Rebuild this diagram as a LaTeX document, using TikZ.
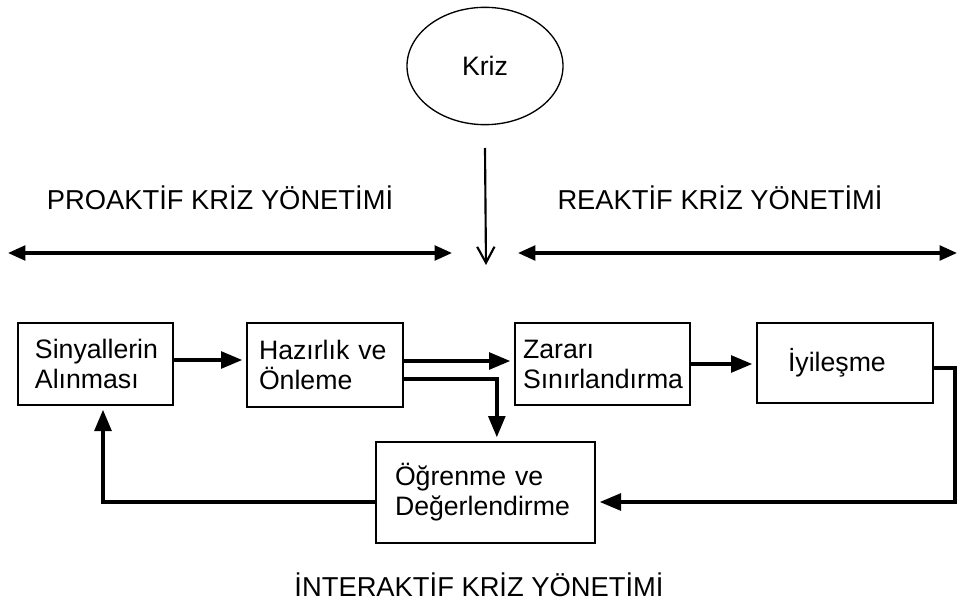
\documentclass[tikz,border=0pt]{standalone}
\usepackage{fontspec}
\setmainfont{Liberation Sans}
\usetikzlibrary{arrows.meta, shapes.geometric}

\begin{document}
\begin{tikzpicture}[x=0.75pt, y=-0.75pt,
    txt/.style={font=\fontsize{20}{22.5}\selectfont},
    box/.style={draw, line width=1pt, txt, align=left, minimum height=61.5pt},
    flow/.style={line width=2.8pt, shorten >=3pt, -{Triangle[length=16pt, width=12.5pt]}},
    span/.style={line width=2.4pt, {Triangle[length=13pt, width=11pt]}-{Triangle[length=13pt, width=11pt]}}]
    \useasboundingbox (0,0) rectangle (958,606);

    \node[ellipse, draw, line width=1pt, txt, minimum width=117pt, minimum height=88pt] (kriz) at (485,66) {Kriz};
    \coordinate (hit) at (486,265);
    \draw[line width=1.6pt, -{Straight Barb[length=12pt, width=13pt]}] ([yshift=-17pt]kriz.south) -- (hit);

    % headings and their spans
    \node[txt, font=\fontsize{20.5}{23}\selectfont] (pro) at (220,198) {PROAKTİF KRİZ YÖNETİMİ};
    \node[txt, font=\fontsize{20.5}{23}\selectfont] (rea) at (720,198) {REAKTİF KRİZ YÖNETİMİ};
    \node[txt, font=\fontsize{20.5}{23}\selectfont] (int) at (479,585) {İNTERAKTİF KRİZ YÖNETİMİ};
    \coordinate (pl1) at (8,253);
    \coordinate (pl2) at (452,253);
    \coordinate (pr1) at (518,253);
    \coordinate (pr2) at (957,253);
    \draw[span] (pl1) -- (pl2);
    \draw[span] (pr1) -- (pr2);

    % stages
    \node[box, inner xsep=12.75pt, text width=90.75pt] (sig) at (95.5,364) {Sinyallerin\\Alınması};
    \node[box, inner xsep=9pt, text width=99pt, minimum height=63pt] (haz) at (325,365) {Hazırlık ve\\Önleme};
    \node[box, inner xsep=6pt, text width=119.25pt] (zar) at (602.5,364) {Zararı\\Sınırlandırma};
    \node[box, inner xsep=23.25pt, text width=85.5pt, minimum height=60pt] (iyi) at (845,363) {İyileşme};
    \node[box, inner xsep=14.25pt, text width=135.75pt, minimum height=75.75pt] (ogr) at (485.5,492.5) {Öğrenme ve\\Değerlendirme};

    \coordinate (re) at (955,502);
    \coordinate (le) at (103,502);
    \draw[flow] ([yshift=3pt]sig.east) -- ([yshift=3pt]sig.east -| haz.west);
    \draw[flow] ([yshift=3pt]haz.east) -- ([yshift=3pt]haz.east -| zar.west);
    \draw[flow] ([yshift=-10.5pt]haz.east) -| ([xshift=8.5pt]ogr.north);
    \draw[flow] (zar.east) -- (zar.east -| iyi.west);
    \draw[flow] ([yshift=-3.75pt]iyi.east) -| (re) -- (re -| ogr.east);
    \draw[flow] (ogr.west |- le) -- (le) -- (le |- sig.south);
\end{tikzpicture}
\end{document}
